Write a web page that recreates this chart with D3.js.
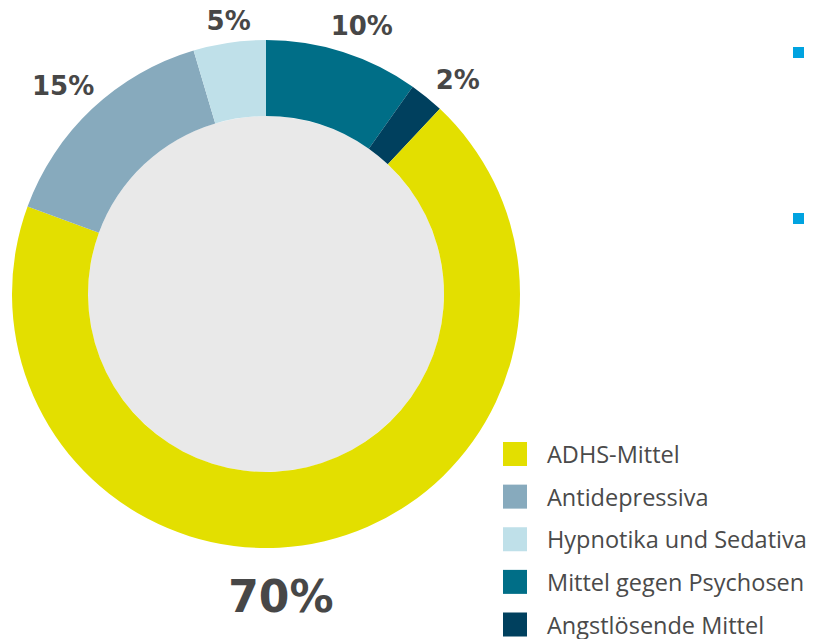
<!DOCTYPE html>
<html>
<head>
<meta charset="utf-8">
<script src="https://cdn.jsdelivr.net/npm/d3@7"></script>
<style>
  html, body { margin: 0; padding: 0; background: #ffffff; }
  svg { display: block; }
</style>
</head>
<body>
<svg id="chart" width="814" height="639"></svg>
<script>
// Data (clockwise from 12 o'clock)
const categories = ["Mittel gegen Psychosen", "Angstlösende Mittel", "ADHS-Mittel", "Antidepressiva", "Hypnotika und Sedativa"];
const values = [9.8, 2.2, 68.6, 14.8, 4.6];
const labels = ["10%", "2%", "70%", "15%", "5%"];
const colors = ["#006e87", "#00405e", "#e3df00", "#87aabd", "#bfe0e9"];
const legendOrder = ["ADHS-Mittel", "Antidepressiva", "Hypnotika und Sedativa", "Mittel gegen Psychosen", "Angstlösende Mittel"];
const labelAngleNudge = [2, 2.5, 10.5, -1, 0.5]; // degrees
const labelRadius = [285, 288, 302, 291, 276];
const labelSize = [26, 26, 44, 26, 26];

const svg = d3.select("#chart");
const cx = 266, cy = 294, R = 254, r = 178;

const color = d3.scaleOrdinal().domain(categories).range(colors);
const data = categories.map((c, i) => ({ name: c, value: values[i], label: labels[i], i }));

const pie = d3.pie().sort(null).value(d => d.value);
const arcs = pie(data);
const arc = d3.arc().innerRadius(r).outerRadius(R);

const g = svg.append("g").attr("transform", `translate(${cx},${cy})`);

g.append("circle").attr("r", r).attr("fill", "#e9e9e9");

g.selectAll("path.slice")
  .data(arcs)
  .join("path")
  .attr("class", "slice")
  .attr("d", arc)
  .attr("fill", d => color(d.data.name));

g.selectAll("text.pct")
  .data(arcs)
  .join("text")
  .attr("class", "pct")
  .each(function(d) {
    const i = d.data.i;
    const a = (d.startAngle + d.endAngle) / 2 + labelAngleNudge[i] * Math.PI / 180;
    const lr = labelRadius[i];
    const fs = labelSize[i];
    d3.select(this)
      .attr("x", lr * Math.sin(a))
      .attr("y", -lr * Math.cos(a) + fs * 0.365)
      .attr("font-size", fs);
  })
  .attr("text-anchor", "middle")
  .attr("font-family", "DejaVu Sans, sans-serif")
  .attr("font-weight", "bold")
  .attr("fill", "#474747")
  .text(d => d.data.label);

// Legend
const legend = svg.append("g").attr("transform", "translate(503,442)");
const rowY = d3.scalePoint().domain(legendOrder).range([0, 170.5]);
const items = legend.selectAll("g.item")
  .data(legendOrder)
  .join("g")
  .attr("class", "item")
  .attr("transform", d => `translate(0,${rowY(d)})`);
items.append("rect")
  .attr("width", 24).attr("height", 24)
  .attr("fill", d => color(d));
items.append("text")
  .attr("x", 44)
  .attr("y", 21)
  .attr("font-family", "Open Sans, sans-serif")
  .attr("font-size", 23.5)
  .attr("fill", "#4a4a4a")
  .text(d => d);

// Bullet markers at right edge
const bullets = [0, 1];
svg.selectAll("rect.bullet")
  .data(bullets)
  .join("rect")
  .attr("class", "bullet")
  .attr("x", 793)
  .attr("y", d => 47 + d * 166)
  .attr("width", 11)
  .attr("height", 11)
  .attr("fill", "#00a3e0");
</script>
</body>
</html>
